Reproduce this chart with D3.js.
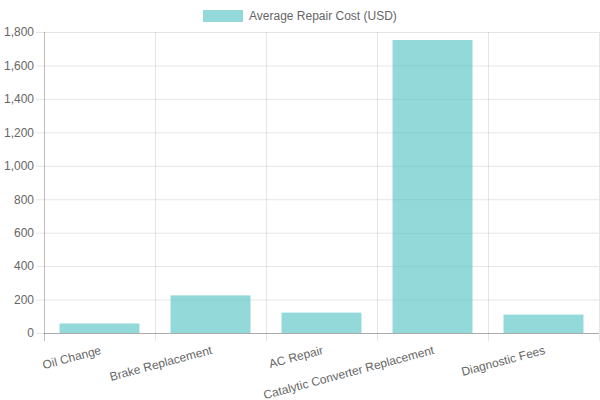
<!DOCTYPE html>
<html>
<head>
<meta charset="utf-8">
<script src="https://cdn.jsdelivr.net/npm/d3@7"></script>
<style>
  body { margin: 0; background: #fff; }
  svg text { font-family: 'Helvetica Neue', Helvetica, Arial, 'Liberation Sans', sans-serif; fill: #666; font-size: 12px; }
</style>
</head>
<body>
<div id="chart"></div>
<script>
var categories = ['Oil Change', 'Brake Replacement', 'AC Repair', 'Catalytic Converter Replacement', 'Diagnostic Fees'];
var costs = [57, 225, 122, 1752, 110];
var yTicks = [0, 200, 400, 600, 800, 1000, 1200, 1400, 1600, 1800];
var seriesName = 'Average Repair Cost (USD)';

var width = 600, height = 400;
var plotLeft = 44, plotRight = 599, plotTop = 32, plotBottom = 333;

var svg = d3.select('#chart').append('svg')
	.attr('width', width)
	.attr('height', height);

var xScale = d3.scaleBand()
	.domain(categories)
	.range([plotLeft, plotRight])
	.paddingInner(0)
	.paddingOuter(0);

var yScale = d3.scaleLinear()
	.domain([0, 1800])
	.range([plotBottom, plotTop]);

var gridColor = 'rgba(0,0,0,0.1)';

// horizontal grid + y ticks
var yAxisG = svg.append('g')
	.attr('transform', 'translate(' + plotLeft + ',0)')
	.call(d3.axisLeft(yScale).tickValues(yTicks).tickSize(8).tickPadding(0).tickFormat(d3.format(',')));
yAxisG.select('.domain').remove();
yAxisG.selectAll('.tick line').attr('stroke', gridColor);
yAxisG.selectAll('.tick text').attr('x', -10).style('font-size', '12px');
yAxisG.selectAll('.tick').append('line')
	.attr('x1', 0).attr('x2', plotRight - plotLeft)
	.attr('stroke', gridColor);

// vertical grid at category boundaries
var bounds = categories.map(function(c) { return xScale(c); }).concat([plotRight]);
svg.append('g').selectAll('line')
	.data(bounds)
	.enter().append('line')
	.attr('x1', function(d) { return d + 0.5; })
	.attr('x2', function(d) { return d + 0.5; })
	.attr('y1', plotTop)
	.attr('y2', plotBottom + 8)
	.attr('stroke', function(d, i) { return i === 0 ? 'rgba(0,0,0,0.25)' : gridColor; });

// bars
var barW = xScale.bandwidth() * 0.72;
svg.append('g').selectAll('rect')
	.data(costs)
	.enter().append('rect')
	.attr('x', function(d, i) { return xScale(categories[i]) + (xScale.bandwidth() - barW) / 2; })
	.attr('width', barW)
	.attr('y', function(d) { return yScale(d); })
	.attr('height', function(d) { return plotBottom - yScale(d); })
	.attr('fill', 'rgba(75,192,192,0.6)');

// x axis line
svg.append('line')
	.attr('x1', plotLeft).attr('x2', plotRight)
	.attr('y1', plotBottom + 0.5).attr('y2', plotBottom + 0.5)
	.attr('stroke', 'rgba(0,0,0,0.25)');

// x labels rotated
svg.append('g').selectAll('text')
	.data(categories)
	.enter().append('text')
	.attr('transform', function(d) {
		return 'translate(' + (xScale(d) + xScale.bandwidth() / 2) + ',' + (plotBottom + 12) + ') rotate(-15)';
	})
	.attr('text-anchor', 'end')
	.attr('dy', '0.75em')
	.text(function(d) { return d; });

// legend
var legend = svg.append('g');
legend.append('rect')
	.attr('x', 203).attr('y', 10)
	.attr('width', 40).attr('height', 12)
	.attr('fill', 'rgba(75,192,192,0.6)');
legend.append('text')
	.attr('x', 249).attr('y', 16)
	.attr('dy', '0.35em')
	.text(seriesName);
</script>
</body>
</html>
